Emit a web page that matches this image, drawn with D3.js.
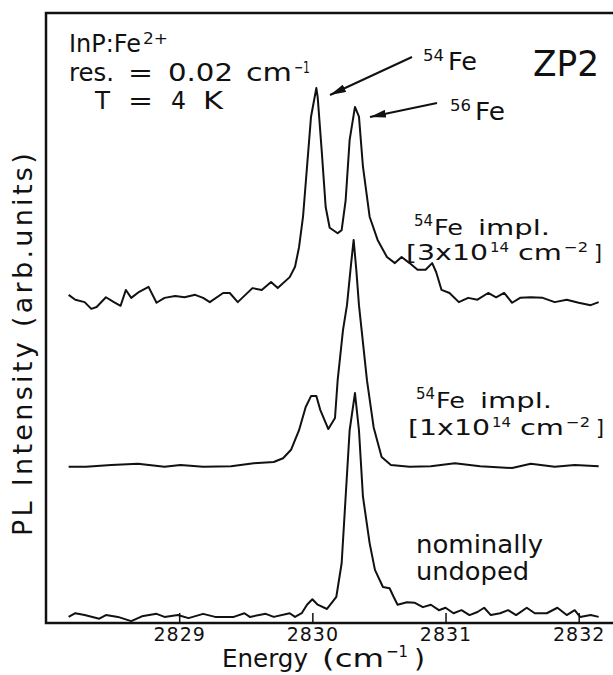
<!DOCTYPE html>
<html>
<head>
<meta charset="utf-8">
<script src="https://cdn.jsdelivr.net/npm/d3@7"></script>
<style>
  body { margin: 0; background: #fff; }
  svg text { font-family: "DejaVu Sans", sans-serif; fill: #111; }
</style>
</head>
<body>
<div id="chart"></div>
<script>
// PL spectra of InP:Fe2+ (ZP2 line), three samples stacked with offsets (arb. units)
const xTicks = [2829, 2830, 2831, 2832];

// top: 54Fe implanted, 3x10^14 cm^-2
const topEnergy = [2828.17, 2828.22, 2828.29, 2828.34, 2828.38, 2828.45, 2828.51, 2828.56, 2828.60, 2828.64, 2828.70, 2828.77, 2828.83, 2828.89, 2828.97, 2829.04, 2829.12, 2829.18, 2829.23, 2829.33, 2829.38, 2829.44, 2829.55, 2829.62, 2829.69, 2829.74, 2829.83, 2829.87, 2829.90, 2829.93, 2829.96, 2829.99, 2830.03, 2830.04, 2830.07, 2830.10, 2830.13, 2830.19, 2830.22, 2830.25, 2830.28, 2830.32, 2830.35, 2830.38, 2830.43, 2830.49, 2830.56, 2830.62, 2830.67, 2830.73, 2830.79, 2830.85, 2830.90, 2830.93, 2830.97, 2831.03, 2831.10, 2831.17, 2831.24, 2831.32, 2831.38, 2831.44, 2831.50, 2831.56, 2831.64, 2831.73, 2831.82, 2831.91, 2832.00, 2832.09, 2832.15];
const topValue = [53.8, 53.0, 52.6, 51.5, 51.8, 53.4, 52.6, 52.0, 54.6, 53.3, 54.3, 55.1, 52.5, 53.3, 53.6, 53.4, 53.8, 53.3, 52.6, 54.1, 54.1, 52.6, 54.9, 54.6, 55.9, 54.9, 56.7, 58.4, 61.6, 66.6, 74.8, 83.0, 87.7, 86.2, 77.5, 68.2, 64.8, 63.9, 64.4, 69.3, 79.2, 84.6, 83.0, 74.8, 66.6, 62.8, 60.0, 59.0, 60.0, 59.0, 57.9, 57.9, 59.0, 57.5, 54.6, 54.1, 52.6, 53.3, 53.0, 54.1, 53.4, 54.1, 52.5, 53.3, 53.4, 53.3, 52.6, 53.0, 52.5, 52.1, 52.6];

// middle: 54Fe implanted, 1x10^14 cm^-2
const midEnergy = [2828.17, 2828.30, 2828.49, 2828.69, 2828.89, 2829.01, 2829.18, 2829.39, 2829.56, 2829.71, 2829.78, 2829.84, 2829.90, 2829.95, 2829.99, 2830.03, 2830.06, 2830.12, 2830.17, 2830.19, 2830.23, 2830.26, 2830.29, 2830.31, 2830.33, 2830.35, 2830.37, 2830.41, 2830.46, 2830.52, 2830.59, 2830.73, 2830.89, 2831.07, 2831.26, 2831.50, 2831.64, 2831.82, 2831.97, 2832.15];
const midValue = [25.6, 25.6, 25.9, 26.1, 25.6, 25.9, 25.6, 25.7, 26.2, 26.4, 27.0, 28.4, 31.6, 35.4, 37.2, 37.2, 34.9, 31.8, 33.6, 39.8, 48.0, 52.1, 58.7, 62.8, 57.9, 52.1, 48.0, 39.8, 32.1, 27.2, 25.9, 25.6, 25.7, 26.2, 25.7, 25.4, 26.1, 25.6, 25.9, 25.7];

// bottom: nominally undoped
const botEnergy = [2828.17, 2828.22, 2828.29, 2828.40, 2828.45, 2828.54, 2828.64, 2828.72, 2828.83, 2828.89, 2828.99, 2829.07, 2829.18, 2829.27, 2829.41, 2829.49, 2829.53, 2829.65, 2829.71, 2829.83, 2829.87, 2829.92, 2829.96, 2830.00, 2830.04, 2830.11, 2830.18, 2830.22, 2830.25, 2830.28, 2830.32, 2830.35, 2830.38, 2830.43, 2830.47, 2830.53, 2830.58, 2830.61, 2830.64, 2830.71, 2830.77, 2830.83, 2830.89, 2830.95, 2831.00, 2831.06, 2831.12, 2831.18, 2831.24, 2831.29, 2831.34, 2831.41, 2831.47, 2831.53, 2831.61, 2831.67, 2831.76, 2831.84, 2831.91, 2831.97, 2832.01, 2832.09, 2832.15];
const botValue = [1.0, 1.6, 1.3, 0.7, 1.3, 1.0, 0.3, 1.1, 1.5, 1.0, 1.3, 0.8, 1.5, 1.0, 1.0, 1.6, 1.0, 1.5, 1.0, 1.6, 1.0, 1.6, 3.0, 3.9, 3.0, 2.3, 4.3, 9.8, 20.7, 31.6, 37.7, 31.6, 20.7, 13.1, 8.7, 5.9, 5.7, 4.3, 3.0, 3.4, 3.3, 2.6, 3.0, 2.1, 2.5, 1.6, 2.1, 1.3, 1.8, 2.5, 1.3, 1.6, 2.1, 1.3, 2.5, 1.6, 1.6, 2.5, 1.3, 2.1, 1.0, 1.3, 1.0];

const seriesList = [
  { name: "top", energy: topEnergy, value: topValue },
  { name: "mid", energy: midEnergy, value: midValue },
  { name: "bot", energy: botEnergy, value: botValue },
];

const width = 613, height = 675;
const frame = { left: 46, top: 13, right: 612, bottom: 623 };

const svg = d3.select("#chart").append("svg")
  .attr("width", width)
  .attr("height", height);

const x = d3.scaleLinear().domain([2828.0, 2832.25]).range([frame.left, frame.right]);
const y = d3.scaleLinear().domain([0, 100]).range([frame.bottom, frame.top]);

// curves
const line = d3.line()
  .x((d) => x(d[0]))
  .y((d) => y(d[1]));

svg.selectAll("path.spectrum")
  .data(seriesList)
  .join("path")
  .attr("class", "spectrum")
  .attr("d", (s) => line(s.energy.map((e, i) => [e, s.value[i]])))
  .attr("fill", "none")
  .attr("stroke", "#111")
  .attr("stroke-width", 2)
  .attr("stroke-linejoin", "round");

// frame (right edge falls just outside the picture)
svg.append("rect")
  .attr("x", frame.left)
  .attr("y", frame.top)
  .attr("width", frame.right - frame.left + 4)
  .attr("height", frame.bottom - frame.top)
  .attr("fill", "none")
  .attr("stroke", "#111")
  .attr("stroke-width", 2.5);

// x axis, ticks pointing inward
const xAxis = svg.append("g")
  .attr("transform", `translate(0,${frame.bottom})`)
  .call(d3.axisBottom(x).tickValues(xTicks).tickSizeInner(-10).tickSizeOuter(0).tickPadding(5).tickFormat(d3.format("d")));
xAxis.select(".domain").remove();
xAxis.selectAll(".tick line").attr("stroke", "#111").attr("stroke-width", 1.5);
xAxis.selectAll(".tick text")
  .attr("font-family", "DejaVu Sans")
  .attr("font-size", 19)
  .attr("letter-spacing", 1)
  .attr("fill", "#111");

// text built from positioned pieces: [text, x, baseline, size, width]
function pieces(parts) {
  parts.forEach((p) => {
    const t = svg.append("text")
      .attr("x", p[1])
      .attr("y", p[2])
      .attr("font-size", p[3] || 24)
      .text(p[0]);
    if (p[4]) t.attr("textLength", p[4]).attr("lengthAdjust", "spacingAndGlyphs");
  });
}

// sample/conditions block
pieces([["InP:Fe", 69, 52, 24, 72], ["2+", 143, 44, 16, 25]]);
pieces([["res.", 69, 81, 24, 45], ["=", 128, 81, 24, 25], ["0.02", 168, 81, 24, 65], ["cm", 246, 81, 24, 46], ["\u22121", 294, 73, 16, 16]]);
pieces([["T", 95, 109, 24, 15], ["=", 128, 109, 24, 25], ["4", 171, 109, 24, 15], ["K", 203, 109, 24, 20]]);

// isotope labels and ZP2
pieces([["54", 423, 61, 16, 21], ["Fe", 448, 70, 24, 29]]);
pieces([["56", 450, 111, 16, 21], ["Fe", 475, 120, 24, 30]]);
pieces([["ZP2", 533, 76, 36, 66]]);

// arrows
svg.append("defs").append("marker")
  .attr("id", "head")
  .attr("viewBox", "0 0 16 8")
  .attr("refX", 16)
  .attr("refY", 4)
  .attr("markerWidth", 16)
  .attr("markerHeight", 8)
  .attr("markerUnits", "userSpaceOnUse")
  .attr("orient", "auto")
  .append("path")
  .attr("d", "M0,0 L16,4 L0,8 Z")
  .attr("fill", "#111");

[[412, 57, 330, 95], [437, 103, 370, 117]].forEach((a) => {
  svg.append("line")
    .attr("x1", a[0]).attr("y1", a[1])
    .attr("x2", a[2]).attr("y2", a[3])
    .attr("stroke", "#111")
    .attr("stroke-width", 2)
    .attr("marker-end", "url(#head)");
});

// series labels
pieces([["54", 414, 226, 15, 19], ["Fe", 434, 235, 22, 29], ["impl.", 478, 235, 22, 72]]);
pieces([["[3x10", 406, 260, 22, 82], ["14", 490, 252, 14, 19], ["cm", 518, 260, 22, 44], ["\u22122", 564, 252, 14, 24], ["]", 594, 260, 22, 8]]);

pieces([["54", 416, 399, 15, 19], ["Fe", 436, 408, 22, 29], ["impl.", 480, 408, 22, 72]]);
pieces([["[1x10", 408, 435, 22, 82], ["14", 492, 427, 14, 19], ["cm", 520, 435, 22, 44], ["\u22122", 566, 427, 14, 24], ["]", 596, 435, 22, 8]]);

pieces([["nominally", 416, 553, 24, 127]]);
pieces([["undoped", 416, 580, 24, 113]]);

// axis titles
pieces([["Energy", 222, 667, 24, 86], ["(cm", 322, 667, 24, 62], ["\u22121", 386, 657, 16, 22], [")", 414, 667, 24, 11]]);

svg.append("text")
  .attr("transform", "translate(32,343) rotate(-90)")
  .attr("text-anchor", "middle")
  .attr("font-size", 27)
  .attr("letter-spacing", 3.3)
  .text("PL Intensity (arb.units)");
</script>
</body>
</html>
